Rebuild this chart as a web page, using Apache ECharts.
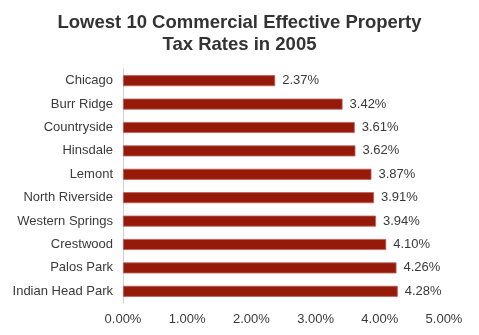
<!DOCTYPE html>
<html><head><meta charset="utf-8">
<script src="https://cdn.jsdelivr.net/npm/echarts@6/dist/echarts.min.js"></script>
<style>html,body{margin:0;padding:0;background:#fff}#c{width:479px;height:335px}</style>
</head><body><div id="c"></div>
<script>
const categories = ["Chicago","Burr Ridge","Countryside","Hinsdale","Lemont","North Riverside","Western Springs","Crestwood","Palos Park","Indian Head Park"];
const values = [2.37,3.42,3.61,3.62,3.87,3.91,3.94,4.10,4.26,4.28];
const titleText = "Lowest 10 Commercial Effective Property\nTax Rates in 2005";
const chart = echarts.init(document.getElementById('c'));
chart.setOption({
  animation:false,
  title:{text:titleText,left:'center',top:7,textStyle:{fontFamily:'Liberation Sans',fontSize:18.5,fontWeight:'bold',color:'#333',lineHeight:22}},
  grid:{left:123,right:35,top:69,bottom:32},
  xAxis:{type:'value',min:0,max:5,interval:1,
    axisLine:{show:false},axisTick:{show:false},splitLine:{show:false},
    axisLabel:{formatter:v=>v.toFixed(2)+'%',fontFamily:'Liberation Sans',fontSize:13,color:'#3a3a3a',margin:10}},
  yAxis:{type:'category',data:categories,inverse:true,
    axisLine:{show:true,lineStyle:{color:'#d0d0d0',width:1}},axisTick:{show:false},
    axisLabel:{fontFamily:'Liberation Sans',fontSize:13,color:'#3a3a3a',margin:10}},
  series:[{type:'bar',data:values,barWidth:11,
    itemStyle:{color:'#951a0a',borderColor:'#c0605a',borderWidth:0.8},
    label:{show:true,position:'right',distance:7,formatter:p=>p.value.toFixed(2)+'%',fontFamily:'Liberation Sans',fontSize:13,color:'#3a3a3a'}}]
});
</script></body></html>
